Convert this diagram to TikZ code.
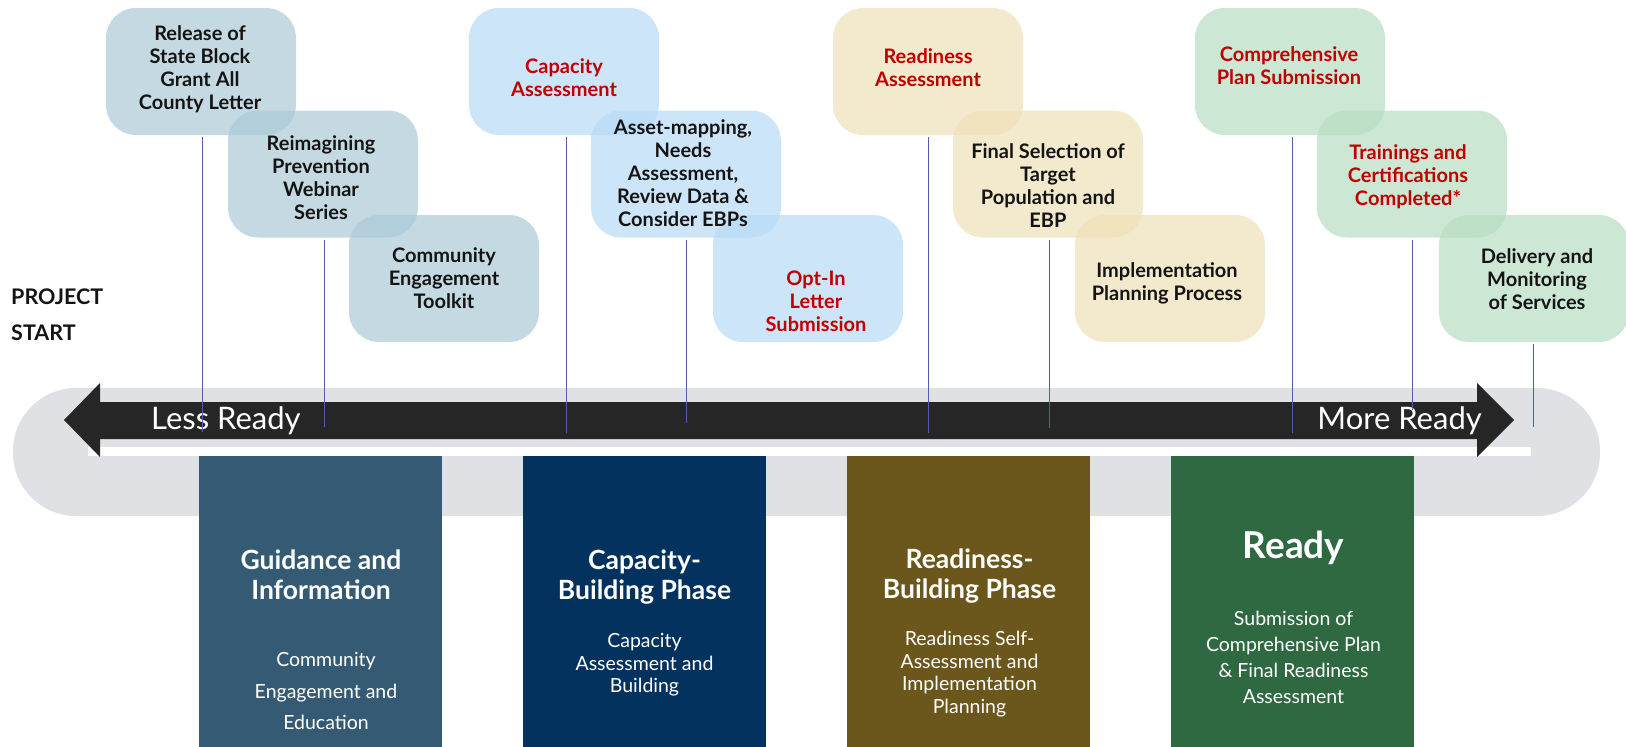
\documentclass[tikz,border=0pt]{standalone}
\usepackage{fontspec}
\setmainfont{Lato}
\definecolor{bandgray}{HTML}{DFE1E4}
\definecolor{arrowblack}{HTML}{262626}
\definecolor{vlinec}{HTML}{5060B0}
\definecolor{redtxt}{HTML}{C00000}
\definecolor{blktxt}{HTML}{141414}
\definecolor{gA}{RGB}{172,201,215}
\definecolor{gB}{RGB}{184,218,245}
\definecolor{gC}{RGB}{238,224,182}
\definecolor{gD}{RGB}{182,221,194}
\definecolor{phA}{HTML}{345B73}
\definecolor{phB}{HTML}{03325E}
\definecolor{phC}{HTML}{6B561B}
\definecolor{phD}{HTML}{2E6941}
\tikzset{
  tbox/.style={minimum width=190pt, minimum height=127pt, rounded corners=30pt, fill opacity=0.7, inner sep=0pt},
  tlab/.style={align=center, font=\bfseries\fontsize{20}{23}\selectfont, text=blktxt, inner sep=0pt},
  rlab/.style={tlab, text=redtxt},
  vline/.style={draw=vlinec, line width=1pt},
  phase/.style={anchor=north west, minimum width=243pt, minimum height=291pt, inner sep=0pt},
  ptitle/.style={align=center, text=white, font=\bfseries\fontsize{26.5}{30}\selectfont, inner sep=0pt},
  psub/.style={align=center, text=white, inner sep=0pt},
  side/.style={anchor=west, font=\bfseries\fontsize{21.5}{25}\selectfont, text=blktxt, inner sep=0pt},
  readylab/.style={text=white, font=\fontsize{31}{36}\selectfont, inner sep=0pt}
}
\begin{document}
\begin{tikzpicture}[x=1pt,y=-1pt]
\useasboundingbox (0,0) rectangle (1626,747);
% background band
\fill[bandgray, rounded corners=63pt] (13,388) rectangle (1600,516);
\fill[white] (88,447) rectangle (1531,456);
% double arrow
\fill[arrowblack] (64,420) -- (100,383) -- (100,402) -- (1477,402) -- (1477,383) -- (1514,420)
  -- (1477,457) -- (1477,439) -- (100,439) -- (100,457) -- cycle;
\node[readylab, anchor=west] (less) at (151,421) {Less Ready};
\node[readylab, anchor=east] (more) at (1482,421) {More Ready};

% phase boxes
\node[phase, fill=phA] (p1) at (199,456) {};
\node[phase, fill=phB] (p2) at (523,456) {};
\node[phase, fill=phC] (p3) at (847,456) {};
\node[phase, fill=phD] (p4) at (1171,456) {};

\node[ptitle] (t1) at (321,575) {Guidance and\\Information};
\node[psub, font=\fontsize{19.5}{31.5}\selectfont] (s1) at (326,691) {Community\\Engagement and\\Education};
\node[ptitle] (t2) at (644.5,577.5) {Capacity-\\Building Phase};
\node[psub, font=\fontsize{19.5}{22.5}\selectfont] (s2) at (644.5,665) {Capacity\\Assessment and\\Building};
\node[ptitle] (t3) at (969.5,576) {Readiness-\\Building Phase};
\node[psub, font=\fontsize{19.5}{22.7}\selectfont] (s3) at (969.5,674) {Readiness Self-\\Assessment and\\Implementation\\Planning};
\node[ptitle, font=\bfseries\fontsize{37}{40}\selectfont] (t4) at (1293.5,548) {Ready};
\node[psub, font=\fontsize{19.5}{26}\selectfont] (s4) at (1293.5,657) {Submission of\\Comprehensive Plan\\\& Final Readiness\\Assessment};

% top boxes
\node[tbox, fill=gA] (a1) at (201,71.5) {};
\node[tbox, fill=gA] (a2) at (323,174) {};
\node[tbox, fill=gA] (a3) at (444,278.5) {};
\node[tbox, fill=gB] (b1) at (564,71.5) {};
\node[tbox, fill=gB] (b2) at (686,174) {};
\node[tbox, fill=gB] (b3) at (808,278.5) {};
\node[tbox, fill=gC] (c1) at (928,71.5) {};
\node[tbox, fill=gC] (c2) at (1048,174) {};
\node[tbox, fill=gC] (c3) at (1170,278.5) {};
\node[tbox, fill=gD] (d1) at (1290,71.5) {};
\node[tbox, fill=gD] (d2) at (1412,174) {};
\node[tbox, fill=gD] (d3) at (1534,278.5) {};

\node[tlab] (la1) at (200,69) {Release of\\State Block\\Grant All\\County Letter};
\node[tlab] (la2) at (321,178) {Reimagining\\Prevention\\Webinar\\Series};
\node[tlab] (la3) at (444,278) {Community\\Engagement\\Toolkit};
\node[rlab] (lb1) at (564,78) {Capacity\\Assessment};
\node[tlab] (lb2) at (683,173) {Asset-mapping,\\Needs\\Assessment,\\Review Data \&\\Consider EBPs};
\node[rlab] (lb3) at (816,301) {Opt-In\\Letter\\Submission};
\node[rlab] (lc1) at (928,68) {Readiness\\Assessment};
\node[tlab] (lc2) at (1048,186) {Final Selection of\\Target\\Population and\\EBP};
\node[tlab] (lc3) at (1167,283) {Implementation\\Planning Process};
\node[rlab] (ld1) at (1289,66) {Comprehensive\\Plan Submission};
\node[rlab] (ld2) at (1408,177) {Trainings and\\Certifications\\Completed*};
\node[tlab] (ld3) at (1537,279) {Delivery and\\Monitoring\\of Services};

% connector lines
\coordinate (ea1) at (202,432);
\coordinate (ea2) at (324,427);
\coordinate (eb1) at (566,433);
\coordinate (eb2) at (686,423);
\coordinate (ec1) at (928,433);
\coordinate (ec2) at (1049,428);
\coordinate (ed1) at (1292,433);
\coordinate (ed2) at (1412,410);
\coordinate (ed3) at (1533,427);
\draw[vline] (a1.south -| ea1) ++(0,2) -- (ea1);
\draw[vline] (a2.south -| ea2) ++(0,2) -- (ea2);
\draw[vline] (b1.south -| eb1) ++(0,2) -- (eb1);
\draw[vline] (b2.south -| eb2) ++(0,2) -- (eb2);
\draw[vline] (c1.south -| ec1) ++(0,2) -- (ec1);
\draw[vline] (c2.south -| ec2) ++(0,2) -- (ec2);
\draw[vline] (d1.south -| ed1) ++(0,2) -- (ed1);
\draw[vline] (d2.south -| ed2) ++(0,2) -- (ed2);
\draw[vline] (d3.south -| ed3) ++(0,2) -- (ed3);

% project start
\node[side] (ps1) at (11,297) {PROJECT};
\node[side] (ps2) at (11,333) {START};
\end{tikzpicture}
\end{document}
